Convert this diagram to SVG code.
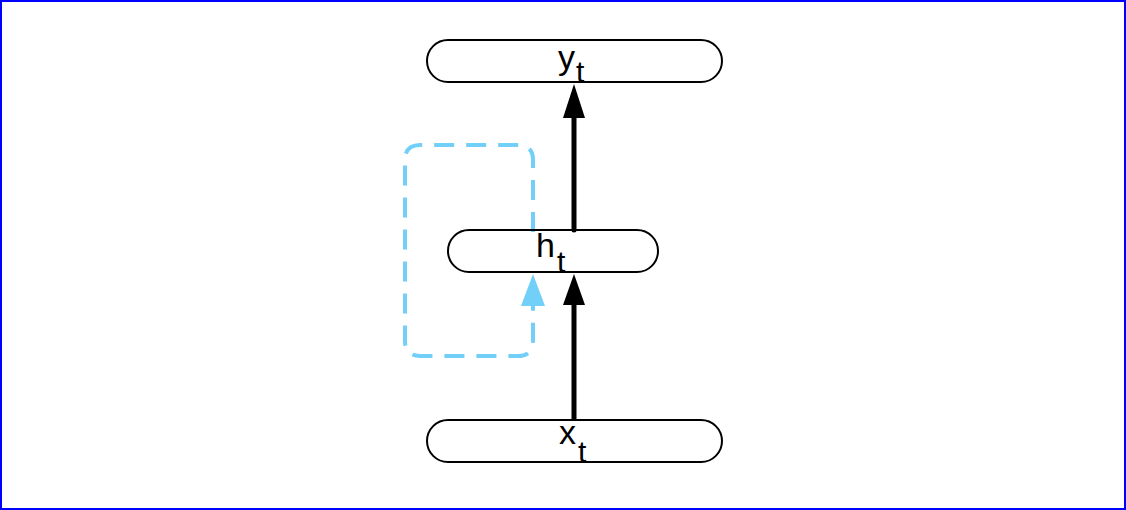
<svg xmlns="http://www.w3.org/2000/svg" width="1126" height="510" viewBox="0 0 1126 510">
<style>
.node{fill:#fff;stroke:#000;stroke-width:2}
.lbl{font-family:"Liberation Sans",Arial,sans-serif;font-size:34px;fill:#000}
.sub{font-size:30px}
.edge{stroke:#000;stroke-width:5;fill:none;stroke-linecap:round}
.rec{stroke:#72d0f8;stroke-width:4;fill:none;stroke-dasharray:20 12}
</style>
<rect x="1" y="1" width="1124" height="508" fill="#fff" stroke="#0000ff" stroke-width="2"/>
<g id="connectors">
<line class="edge" x1="574" y1="230" x2="574" y2="112"/>
<polygon points="574,84 563,118 585,118" fill="#000"/>
<line class="edge" x1="574" y1="420" x2="574" y2="300"/>
<polygon points="574,274 563,305 585,305" fill="#000"/>
<path class="rec" d="M533,232 V160 Q533,145 518,145 H420 Q405,145 405,160 V341 Q405,356 420,356 H518 Q533,356 533,341 V300"/>
<polygon points="533,274 521,306 545,306" fill="#72d0f8"/>
</g>
<g id="node-y">
<rect class="node" x="427" y="40" width="295" height="42" rx="21"/>
<text class="lbl"><tspan x="558" y="69">y</tspan><tspan class="sub" x="576" y="82">t</tspan></text>
</g>
<g id="node-h">
<rect class="node" x="448" y="230" width="210" height="42" rx="21" style="fill:none"/>
<text class="lbl"><tspan x="536" y="257">h</tspan><tspan class="sub" x="557" y="272">t</tspan></text>
</g>
<g id="node-x">
<rect class="node" x="427" y="420" width="295" height="42" rx="21"/>
<text class="lbl"><tspan x="559" y="444">x</tspan><tspan class="sub" x="578" y="462">t</tspan></text>
</g>
</svg>
